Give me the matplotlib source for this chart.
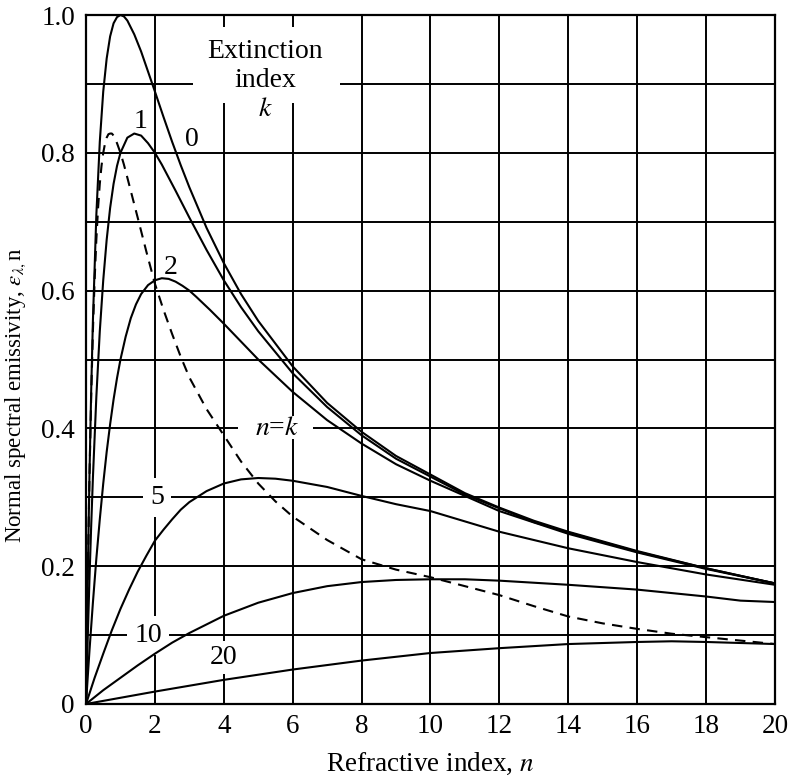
import matplotlib
matplotlib.use('Agg')
import matplotlib.pyplot as plt
from matplotlib.patches import Rectangle
import numpy as np

plt.rcParams['font.family'] = ['Liberation Serif', 'DejaVu Serif']
plt.rcParams['mathtext.fontset'] = 'stix'

# emissivity curves, one per extinction index k (values read along n)
n_k0 = [0, 0.02, 0.05, 0.1, 0.15, 0.2, 0.3, 0.4, 0.5, 0.6, 0.7, 0.8, 0.9, 1.0, 1.1, 1.2, 1.4, 1.6,
        1.8, 2, 2.25, 2.5, 2.75, 3, 3.5, 4, 4.5, 5, 6, 7, 8, 9, 10, 11, 12, 13, 14, 16, 18, 20]
e_k0 = [0, 0.077, 0.181, 0.331, 0.454, 0.556, 0.710, 0.816, 0.889, 0.937, 0.969, 0.988, 0.997, 1.0,
        0.998, 0.992, 0.972, 0.947, 0.918, 0.889, 0.852, 0.816, 0.782, 0.750, 0.691, 0.640, 0.595,
        0.556, 0.490, 0.437, 0.395, 0.360, 0.333, 0.306, 0.285, 0.266, 0.250, 0.222, 0.197, 0.175]

n_k1 = [0, 0.02, 0.05, 0.1, 0.15, 0.2, 0.3, 0.4, 0.5, 0.6, 0.7, 0.8, 0.9, 1.0, 1.2, 1.4, 1.6, 1.8,
        2.0, 2.2, 2.6, 3, 3.5, 4, 4.5, 5, 6, 7, 8, 9, 10, 11, 12, 13, 14, 16, 18, 20]
e_k1 = [0, 0.039, 0.095, 0.181, 0.258, 0.328, 0.446, 0.541, 0.615, 0.674, 0.720, 0.755, 0.781,
        0.800, 0.822, 0.828, 0.825, 0.814, 0.800, 0.783, 0.745, 0.706, 0.659, 0.615, 0.576, 0.541,
        0.480, 0.431, 0.390, 0.356, 0.330, 0.304, 0.284, 0.264, 0.249, 0.221, 0.197, 0.175]

n_k2 = [0, 0.05, 0.1, 0.2, 0.3, 0.4, 0.5, 0.6, 0.7, 0.8, 0.9, 1.0, 1.15, 1.3, 1.45, 1.6, 1.8, 2.0,
        2.2, 2.4, 2.6, 2.8, 3.0, 3.2, 3.6, 4, 4.5, 5, 6, 7, 8, 9, 10, 12, 14, 16, 18, 20]
e_k2 = [0, 0.039, 0.077, 0.147, 0.211, 0.268, 0.320, 0.366, 0.406, 0.442, 0.473, 0.500, 0.533,
        0.560, 0.580, 0.595, 0.608, 0.615, 0.618, 0.617, 0.613, 0.607, 0.600, 0.591, 0.572, 0.552,
        0.526, 0.500, 0.453, 0.412, 0.378, 0.348, 0.324, 0.280, 0.247, 0.220, 0.196, 0.175]

n_k5 = [0, 0.25, 0.5, 0.75, 1, 1.25, 1.5, 1.75, 2, 2.25, 2.5, 2.75, 3, 3.5, 4, 4.5, 5, 5.5, 6, 7, 8,
        9, 10, 12, 14, 16, 18, 20]
e_k5 = [0, 0.038, 0.073, 0.107, 0.138, 0.166, 0.192, 0.215, 0.237, 0.253, 0.268, 0.282, 0.293,
        0.309, 0.320, 0.326, 0.328, 0.327, 0.324, 0.315, 0.302, 0.290, 0.280, 0.250, 0.226, 0.206,
        0.188, 0.173]

n_k10 = [0, 0.5, 1, 1.5, 2, 2.5, 3, 4, 5, 6, 7, 8, 9, 10, 11, 12, 14, 16, 18, 19, 20]
e_k10 = [0, 0.020, 0.038, 0.056, 0.073, 0.089, 0.103, 0.128, 0.147, 0.161, 0.171, 0.177, 0.180,
         0.181, 0.181, 0.179, 0.173, 0.166, 0.156, 0.150, 0.148]

n_k20 = [0, 1, 2, 4, 6, 8, 10, 12, 14, 16, 17, 18, 20]
e_k20 = [0, 0.009, 0.018, 0.035, 0.050, 0.063, 0.074, 0.081, 0.087, 0.090, 0.091, 0.090, 0.087]

# dashed locus n = k
n_nk = [0, 0.02, 0.05, 0.1, 0.15, 0.2, 0.25, 0.3, 0.35, 0.4, 0.45, 0.5, 0.55, 0.6, 0.65, 0.7, 0.75,
        0.8, 0.9, 1.0, 1.1, 1.2, 1.35, 1.5, 1.75, 2, 2.25, 2.5, 2.75, 3, 3.5, 4, 4.5, 5, 5.5, 6, 7,
        8, 9, 10, 11, 12, 13, 14, 15, 16, 17, 18, 19, 20]
e_nk = [0, 0.077, 0.181, 0.328, 0.446, 0.541, 0.615, 0.674, 0.720, 0.755, 0.781, 0.800, 0.813,
        0.822, 0.827, 0.828, 0.828, 0.825, 0.814, 0.800, 0.783, 0.764, 0.735, 0.706, 0.657, 0.610,
        0.572, 0.537, 0.504, 0.474, 0.428, 0.390, 0.352, 0.320, 0.294, 0.272, 0.238, 0.210, 0.195,
        0.184, 0.171, 0.158, 0.142, 0.127, 0.117, 0.109, 0.102, 0.097, 0.092, 0.087]

xticks = np.arange(0, 21, 2)
yticks = [0, 0.2, 0.4, 0.6, 0.8, 1.0]
yticklabels = ['0', '0.2', '0.4', '0.6', '0.8', '1.0']

fig = plt.figure(figsize=(7.92, 7.79), dpi=100)
ax = fig.add_axes([0.1086, 0.0963, 0.8699, 0.8844])

lw = 1.5
for n, e in [(n_k0, e_k0), (n_k1, e_k1), (n_k2, e_k2), (n_k5, e_k5), (n_k10, e_k10), (n_k20, e_k20)]:
    ax.plot(n, e, color='black', lw=lw, solid_joinstyle='round', zorder=2)
ax.plot(n_nk, e_nk, color='black', lw=lw, ls=(0, (5, 3.5)), zorder=2)

ax.set_xlim(0, 20)
ax.set_ylim(0, 1.0)
ax.set_xticks(xticks)
ax.set_yticks(yticks)
ax.set_yticklabels(yticklabels)
ax.set_yticks(np.arange(0.1, 1.0, 0.2), minor=True)
ax.grid(True, which='both', color='black', lw=1.4)
ax.set_axisbelow(True)
ax.tick_params(which='both', length=0, labelsize=19.5)
ax.tick_params(axis='x', pad=7)
ax.tick_params(axis='y', pad=8)
for s in ax.spines.values():
    s.set_linewidth(1.6)

ax.set_xlabel('Refractive index, $n$', fontsize=19.5)
ax.xaxis.label.set_va('baseline')
ax.xaxis.set_label_coords(0.5, -0.097)
ax.set_ylabel(r'Normal spectral emissivity, $\varepsilon_{\lambda,}$n', fontsize=16.5)
ax.yaxis.set_label_coords(-0.084, 0.448)

# white gaps in the grid behind the in-plot captions
ax.add_patch(Rectangle((3.11, 0.872), 4.27, 0.111, facecolor='white', edgecolor='none', zorder=1))
ax.add_patch(Rectangle((4.42, 0.385), 2.18, 0.033, facecolor='white', edgecolor='none', zorder=1))

white = dict(facecolor='white', edgecolor='none', pad=5)
fs = 20
ax.text(5.2, 0.905, 'Extinction\nindex\n$k$', fontsize=fs, ha='center', va='center',
        linespacing=1.2)
ax.text(3.08, 0.820, '0', fontsize=fs, ha='center', va='center')
ax.text(1.57, 0.846, '1', fontsize=fs, ha='center', va='center')
ax.text(2.45, 0.634, '2', fontsize=fs, ha='center', va='center')
ax.text(2.06, 0.3, '5', fontsize=fs, ha='center', va='center', bbox=white, zorder=1.5)
ax.text(1.8, 0.1, '10', fontsize=fs, ha='center', va='center', bbox=white, zorder=1.5)
ax.text(3.98, 0.067, '20', fontsize=fs, ha='center', va='center', zorder=1.5,
        bbox=dict(facecolor='white', edgecolor='none', pad=3))
ax.text(5.55, 0.4, '$n$=$k$', fontsize=fs, ha='center', va='center')

fig.savefig('out.png', dpi=100)
